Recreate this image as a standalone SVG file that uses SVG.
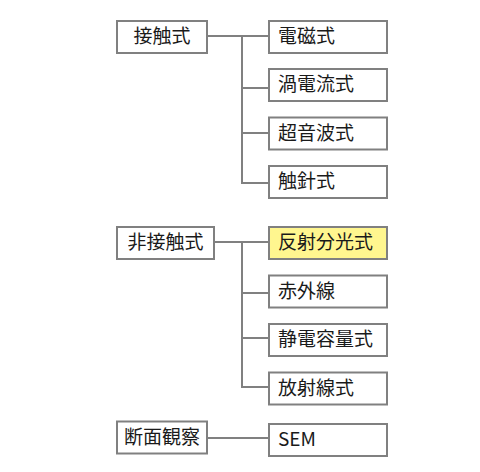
<svg xmlns="http://www.w3.org/2000/svg" width="480" height="472" viewBox="0 0 480 472">
<style>
.b{fill:#fff;stroke:#808080;stroke-width:2}
.y{fill:#fff68f}
.t{font-family:"Noto Sans CJK JP","Noto Sans",sans-serif;font-size:19px;fill:#1a1a1a}
.c{fill:none;stroke:#808080;stroke-width:2}
</style>
<rect width="480" height="472" fill="#fff"/>
<g id="connectors">
<path class="c" d="M207 36H268M242 36V183H268M242 88H268M242 133H268"/>
<path class="c" d="M214 242H268M242 242V387H268M242 293H268M242 338H268"/>
<path class="c" d="M207 438H268"/>
</g>
<g id="n1"><rect class="b" x="117" y="21" width="90" height="32"/><text class="t" x="162" y="43" text-anchor="middle">接触式</text></g>
<g id="n2"><rect class="b" x="269" y="21" width="118" height="32"/><text class="t" x="278" y="43">電磁式</text></g>
<g id="n3"><rect class="b" x="269" y="69" width="118" height="32"/><text class="t" x="278" y="91">渦電流式</text></g>
<g id="n4"><rect class="b" x="269" y="117.5" width="118" height="32"/><text class="t" x="278" y="139.5">超音波式</text></g>
<g id="n5"><rect class="b" x="269" y="166" width="118" height="32"/><text class="t" x="278" y="188">触針式</text></g>
<g id="n6"><rect class="b" x="117" y="227" width="97" height="32"/><text class="t" x="165.5" y="249" text-anchor="middle">非接触式</text></g>
<g id="n7"><rect class="b y" x="269" y="227" width="118" height="32"/><text class="t" x="278" y="249">反射分光式</text></g>
<g id="n8"><rect class="b" x="269" y="275.5" width="118" height="32"/><text class="t" x="278" y="297.5">赤外線</text></g>
<g id="n9"><rect class="b" x="269" y="324" width="118" height="32"/><text class="t" x="278" y="346">静電容量式</text></g>
<g id="n10"><rect class="b" x="269" y="372.5" width="118" height="32"/><text class="t" x="278" y="394.5">放射線式</text></g>
<g id="n11"><rect class="b" x="117" y="421.5" width="90" height="32"/><text class="t" x="162" y="443.5" text-anchor="middle">断面観察</text></g>
<g id="n12"><rect class="b" x="269" y="424" width="118" height="32"/><text class="t" x="278" y="446">SEM</text></g>
</svg>
